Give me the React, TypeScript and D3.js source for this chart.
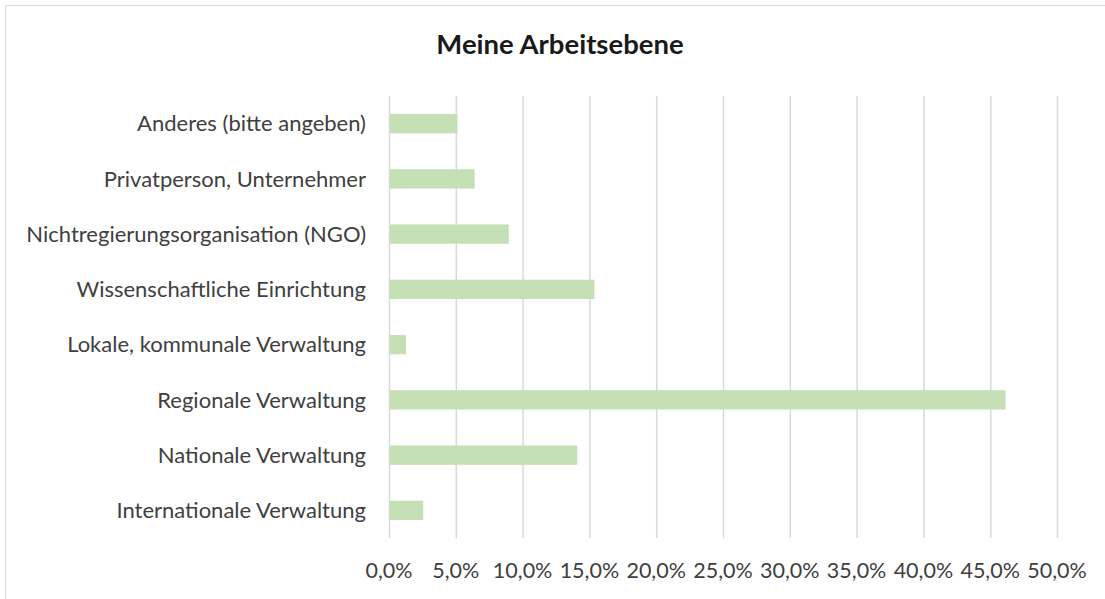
import React, { useEffect, useRef } from 'react';
import * as d3 from 'd3';

// categories from top to bottom as shown
const categories = [
  'Anderes (bitte angeben)',
  'Privatperson, Unternehmer',
  'Nichtregierungsorganisation (NGO)',
  'Wissenschaftliche Einrichtung',
  'Lokale, kommunale Verwaltung',
  'Regionale Verwaltung',
  'Nationale Verwaltung',
  'Internationale Verwaltung',
];
const shares = [5.13, 6.41, 8.97, 15.38, 1.28, 46.15, 14.1, 2.56];
const xTicks = [0, 5, 10, 15, 20, 25, 30, 35, 40, 45, 50];
const title = 'Meine Arbeitsebene';

const App = () => {
  const ref = useRef<SVGSVGElement>(null);

  useEffect(() => {
    if (!ref.current) return;
    const width = 1105;
    const height = 599;
    const margin = { top: 96, right: 48, bottom: 61, left: 389 };

    const svg = d3.select(ref.current);
    svg.selectAll('*').remove();
    svg.attr('width', width).attr('height', height);

    svg.append('rect').attr('width', width).attr('height', height).attr('fill', '#fff');
    // chart frame (cut off at right/bottom)
    svg.append('rect')
      .attr('x', 5.5).attr('y', 5.5)
      .attr('width', width + 10).attr('height', height + 10)
      .attr('fill', 'none').attr('stroke', '#d9d9d9');

    const x = d3.scaleLinear()
      .domain([0, 50])
      .range([margin.left, width - margin.right]);
    const y = d3.scaleBand()
      .domain(categories)
      .range([margin.top, height - margin.bottom])
      .paddingInner(0.65)
      .paddingOuter(0.325);

    const font = 'Lato, "Open Sans", sans-serif';

    // grid
    svg.append('g').selectAll('line')
      .data(xTicks)
      .join('line')
      .attr('x1', d => x(d) + 0.5).attr('x2', d => x(d) + 0.5)
      .attr('y1', margin.top).attr('y2', height - margin.bottom)
      .attr('stroke', '#d9d9d9').attr('stroke-width', 1.5);

    // bars
    svg.append('g').selectAll('rect')
      .data(categories)
      .join('rect')
      .attr('x', x(0) + 1)
      .attr('y', d => y(d)!)
      .attr('width', (d, i) => x(shares[i]) - x(0) - 1)
      .attr('height', y.bandwidth())
      .attr('fill', '#c5e0b4');

    // category labels
    svg.append('g').selectAll('text')
      .data(categories)
      .join('text')
      .attr('x', margin.left - 23)
      .attr('y', d => y(d)! + y.bandwidth() / 2)
      .attr('dy', '0.35em')
      .attr('text-anchor', 'end')
      .attr('font-family', font)
      .attr('font-size', 22)
      .attr('fill', '#404040')
      .text(d => d);

    // tick labels
    svg.append('g').selectAll('text')
      .data(xTicks)
      .join('text')
      .attr('x', d => x(d))
      .attr('y', 578)
      .attr('text-anchor', 'middle')
      .attr('font-family', font)
      .attr('font-size', 21.5)
      .attr('fill', '#404040')
      .text(d => d3.format('.1f')(d).replace('.', ',') + '%');

    svg.append('text')
      .attr('x', 560)
      .attr('y', 54)
      .attr('text-anchor', 'middle')
      .attr('font-family', font)
      .attr('font-size', 27.5)
      .attr('font-weight', 'bold')
      .attr('fill', '#1a1a1a')
      .text(title);
  }, []);

  return (
    <div style={{ position: 'absolute', left: 0, top: 0 }}>
      <svg ref={ref} />
    </div>
  );
};

export default App;
